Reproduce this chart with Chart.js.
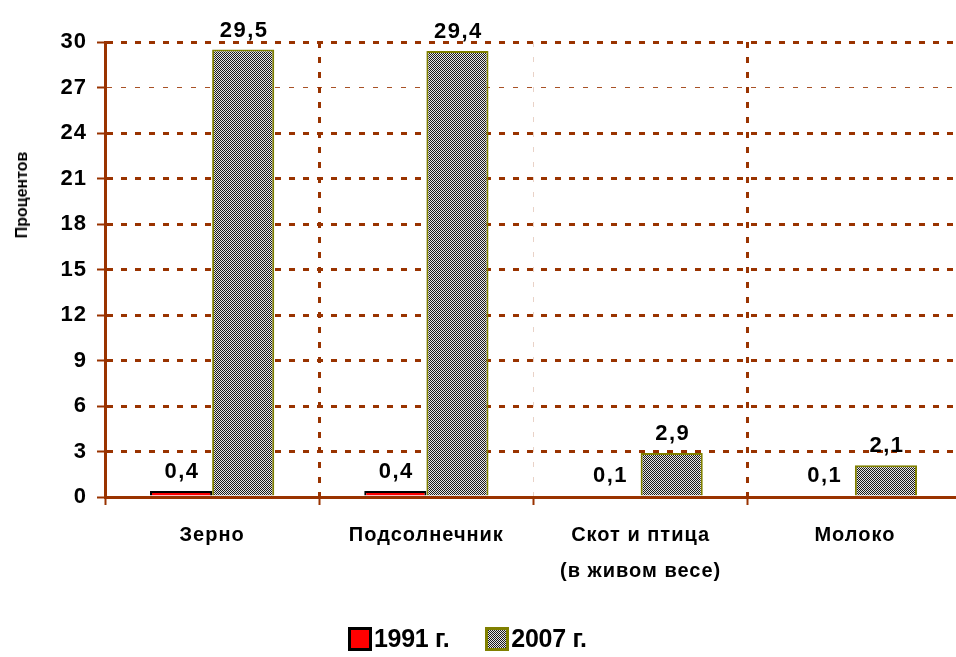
<!DOCTYPE html>
<html><head><meta charset="utf-8">
<script src="https://cdn.jsdelivr.net/npm/chart.js@4/dist/chart.umd.min.js"></script>
<style>
html,body{margin:0;padding:0;background:#fff;overflow:hidden;width:956px;height:657px;}
#wrap{position:absolute;left:0;top:0;width:970px;height:657px;}
#ytitle{position:absolute;left:22px;top:195px;transform:translate(-50%,-50%) rotate(-90deg);font:bold 16px "Liberation Sans",Arial,sans-serif;white-space:nowrap;color:#000;}
#legend{position:absolute;left:348px;top:624px;font:bold 25px "Liberation Sans Narrow","Liberation Sans",Arial,sans-serif;letter-spacing:-0.3px;color:#000;display:flex;align-items:center;}
#legend .it{display:flex;align-items:center;}
#legend canvas{display:block;margin-right:2px;}
</style></head>
<body>
<div id="wrap"><canvas id="c" width="970" height="657"></canvas></div>
<div id="ytitle">Процентов</div>
<div id="legend"></div>
<script>
const categories = [['Зерно'], ['Подсолнечник'], ['Скот и птица','(в живом весе)'], ['Молоко']];
const seriesNames = ['1991 г.', '2007 г.'];
const values1991 = [0.4, 0.4, 0.1, 0.1];
const values2007 = [29.5, 29.4, 2.9, 2.1];
const yTicks = [0, 3, 6, 9, 12, 15, 18, 21, 24, 27, 30];

const BROWN = '#993300';
const NARROW = '"Liberation Sans Narrow","Liberation Sans",Arial,sans-serif';
function makePattern(){
  const p = document.createElement('canvas'); p.width = 2; p.height = 2;
  const g = p.getContext('2d');
  g.fillStyle = '#e6e6e6'; g.fillRect(0,0,2,2);
  g.fillStyle = '#1a1a1a'; g.fillRect(0,0,1,1); g.fillRect(1,1,1,1);
  return g.createPattern(p, 'repeat');
}
const pattern = makePattern();

const fmt = v => String(v).replace('.', ',');
const labelPlugin = {
  id: 'valueLabels',
  afterDatasetsDraw(chart){
    const ctx = chart.ctx;
    ctx.save();
    ctx.letterSpacing = '1.5px';
    ctx.font = 'bold 22px ' + NARROW;
    ctx.fillStyle = '#000';
    ctx.textAlign = 'center';
    ctx.textBaseline = 'alphabetic';
    chart.data.datasets.forEach((ds, di) => {
      chart.getDatasetMeta(di).data.forEach((bar, i) => {
        ctx.fillText(fmt(ds.data[i]), bar.x + 1, bar.y - 13);
      });
    });
    ctx.restore();
  }
};
const spacingPlugin = {
  id: 'spacing',
  beforeDraw(chart){ chart.ctx.letterSpacing = '1px'; },
  afterDraw(chart){ chart.ctx.letterSpacing = '0px'; }
};

new Chart(document.getElementById('c'), {
  type: 'bar',
  data: {
    labels: categories,
    datasets: [
      {label: seriesNames[0], data: values1991, backgroundColor: '#ff0000', borderColor: '#000', borderWidth: 2},
      {label: seriesNames[1], data: values2007, backgroundColor: pattern, borderColor: '#808000', borderWidth: 2}
    ]
  },
  options: {
    responsive: false,
    animation: false,
    layout: {padding: {left: 0, top: 42, right: 8, bottom: 0}},
    plugins: {legend: {display: false}, tooltip: {enabled: false}},
    datasets: {bar: {categoryPercentage: 0.58, barPercentage: 1.0}},
    scales: {
      x: {
        afterFit(s){ s.height = 160; },
        border: {display: true, color: BROWN, width: 3,
          dash: c => (c.index === 2 ? [5, 10] : [6, 9])},
        grid: {
          offset: true,
          drawTicks: true,
          tickLength: 8,
          tickColor: BROWN,
          tickWidth: 2,
          tickBorderDash: [],
          color: c => (c.index === 1 || c.index === 3) ? BROWN : (c.index === 2 ? 'rgba(153,51,0,0.22)' : 'rgba(0,0,0,0)'),
          lineWidth: c => (c.index === 2 ? 1 : 3)
        },
        ticks: {
          color: '#000',
          padding: 12,
          font: {family: NARROW, size: 20, weight: 'bold', lineHeight: 1.8}
        }
      },
      y: {
        min: 0, max: 30,
        afterFit(s){ s.width = 105; },
        afterBuildTicks(s){ s.ticks = yTicks.map(v => ({value: v})); },
        border: {display: true, color: BROWN, width: 3,
          dash: c => (c.tick && c.tick.value === 27 ? [5, 9] : [6, 8])},
        grid: {
          drawTicks: true,
          tickLength: 8,
          tickColor: BROWN,
          tickWidth: 2,
          tickBorderDash: [],
          color: c => c.tick && c.tick.value === 0 ? 'rgba(0,0,0,0)' : (c.tick && c.tick.value === 27 ? 'rgba(153,51,0,0.85)' : BROWN),
          lineWidth: c => (c.tick && c.tick.value === 27 ? 1 : 3)
        },
        ticks: {
          color: '#000',
          padding: 10,
          font: {family: NARROW, size: 22, weight: 'bold'}
        }
      }
    }
  },
  plugins: [labelPlugin, spacingPlugin]
});

// legend (HTML)
const lg = document.getElementById('legend');
function sw(fill, stroke){
  const c = document.createElement('canvas'); c.width = 24; c.height = 24;
  const g = c.getContext('2d');
  g.fillStyle = fill; g.fillRect(0,0,24,24);
  g.strokeStyle = stroke; g.lineWidth = 3; g.strokeRect(1.5,1.5,21,21);
  return c;
}
[[ '#ff0000', '#000'], [pattern, '#808000']].forEach((s, i) => {
  const it = document.createElement('span'); it.className = 'it';
  if (i === 1) it.style.marginLeft = '36px';
  it.appendChild(sw(s[0], s[1]));
  const t = document.createElement('span'); t.textContent = seriesNames[i];
  it.appendChild(t);
  lg.appendChild(it);
});
</script>
</body></html>
